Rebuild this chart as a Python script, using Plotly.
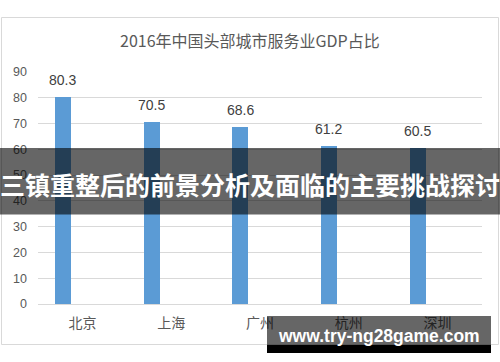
import plotly.graph_objects as go

# ---- data ----
cities = ["北京", "上海", "广州", "杭州", "深圳"]
values = [80.3, 70.5, 68.6, 61.2, 60.5]
value_labels = ["80.3", "70.5", "68.6", "61.2", "60.5"]
y_ticks = [0, 10, 20, 30, 40, 50, 60, 70, 80, 90]

title_text = "2016年中国头部城市服务业GDP占比"
banner_text = "三镇重整后的前景分析及面临的主要挑战探讨"
watermark_text = "www.try-ng28game.com"

# ---- layout geometry (pixels) ----
W, H = 500, 362
L, R, T, B = 38, 482, 72, 304


def px(x):
    return (x - L) / (R - L)


def py(y):
    return (B - y) / (B - T)


grey_txt = "#595959"
blue = "#5b9bd5"

fig = go.Figure()
fig.add_trace(go.Bar(
    x=cities, y=values,
    marker=dict(color=blue, line=dict(width=0)),
    width=0.18, offset=-0.31,
    hoverinfo="skip",
))

annotations = []
for c, v, t in zip(cities, values, value_labels):
    annotations.append(dict(
        x=c, y=v, xref="x", yref="y", text=t, showarrow=False,
        xshift=-20, yshift=17, yanchor="middle",
        font=dict(family="Liberation Sans, Arial, sans-serif", size=14, color="#404040"),
    ))

# title
annotations.append(dict(
    x=px(250), y=py(40), xref="paper", yref="paper", text=title_text,
    showarrow=False, xanchor="center", yanchor="middle",
    font=dict(family="Noto Sans CJK SC", size=16, color=grey_txt),
))
# banner text
annotations.append(dict(
    x=px(250), y=py(184), xref="paper", yref="paper", text="<b>" + banner_text + "</b>",
    showarrow=False, xanchor="center", yanchor="middle",
    font=dict(family="Noto Sans CJK SC", size=25, color="white"),
))
# watermark text
annotations.append(dict(
    x=px(379), y=py(336), xref="paper", yref="paper", text="<b>" + watermark_text + "</b>",
    showarrow=False, xanchor="center", yanchor="middle",
    font=dict(family="Liberation Sans, Arial, sans-serif", size=17.5, color="white"),
))

shapes = [
    # chart border
    dict(type="rect", xref="paper", yref="paper", x0=px(1.5), x1=px(498.5), y0=py(344.5), y1=py(17.5),
         line=dict(color="#d9d9d9", width=1), fillcolor="rgba(0,0,0,0)", layer="below"),
    # banner
    dict(type="rect", xref="paper", yref="paper", x0=px(0), x1=px(500), y0=py(214.5), y1=py(148),
         line=dict(width=0), fillcolor="rgba(0,0,0,0.6)", layer="above"),
    # watermark box
    dict(type="rect", xref="paper", yref="paper", x0=px(267), x1=px(491), y0=py(345), y1=py(316),
         line=dict(width=0), fillcolor="rgba(0,0,0,0.6)", layer="above"),
    dict(type="rect", xref="paper", yref="paper", x0=px(267), x1=px(491), y0=py(353), y1=py(345),
         line=dict(width=0), fillcolor="#000000", layer="above"),
]

fig.update_layout(
    width=W, height=H,
    margin=dict(l=L, r=W - R, t=T, b=H - B, pad=0),
    paper_bgcolor="white", plot_bgcolor="white",
    showlegend=False,
    annotations=annotations,
    shapes=shapes,
    bargap=0,
)
fig.update_xaxes(
    showgrid=False, showline=True, linecolor="#d9d9d9", linewidth=1,
    ticks="", tickfont=dict(family="Noto Sans CJK SC", size=14, color=grey_txt),
    ticklabelstandoff=6, fixedrange=True,
)
fig.update_yaxes(
    range=[0, 90], tickvals=y_ticks, showgrid=True, gridcolor="#d9d9d9", gridwidth=1,
    zeroline=False, showline=False, ticks="",
    tickfont=dict(family="Liberation Sans, Arial, sans-serif", size=12.5, color=grey_txt),
    ticklabelstandoff=10, fixedrange=True,
)

fig.write_html("out.html", config={"displayModeBar": False})
